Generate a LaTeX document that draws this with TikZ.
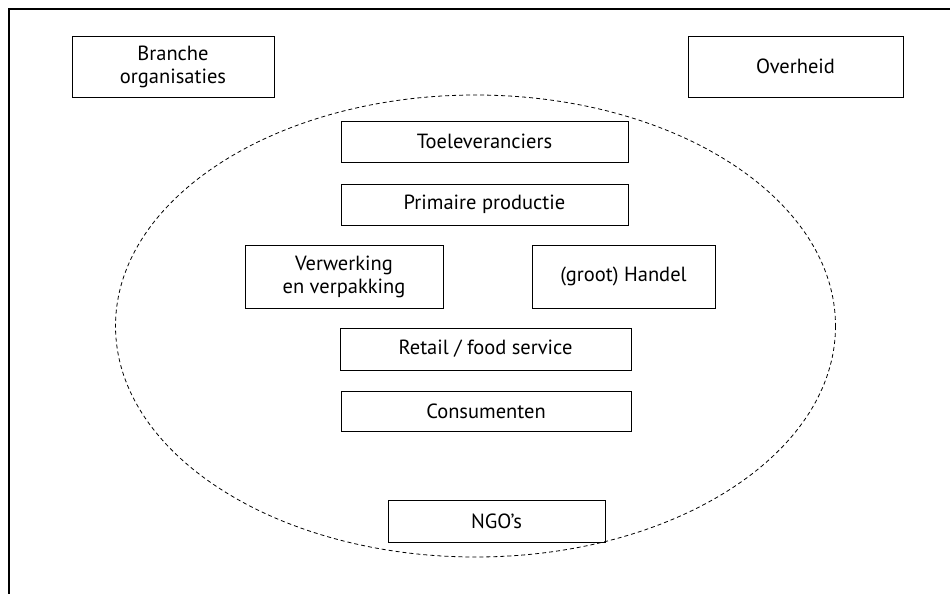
\documentclass[tikz,border=0pt]{standalone}
\usepackage{fontspec}
\setmainfont{PT Sans}
\begin{document}
\begin{tikzpicture}[x=1pt,y=-1pt,
  box/.style={draw, line width=0.9pt, inner sep=0pt, align=center,
    font=\fontsize{20.5}{23}\selectfont},
  frame/.style={line width=1.3pt},
  zone/.style={dashed, line width=0.8pt, dash pattern=on 4pt off 3pt}]
\useasboundingbox (0,0) rectangle (950,594);
\draw[frame] (9,594) -- (9,9) -- (950,9);
\draw[zone] (475.5,326) ellipse [x radius=360, y radius=231];
\node[box, minimum width=202, minimum height=61] (branche) at (173,66.5) {Branche\\organisaties};
\node[box, minimum width=215, minimum height=61] (overheid) at (795.5,66.5) {Overheid};
\node[box, minimum width=287, minimum height=41] (toel) at (484.5,141.5) {Toeleveranciers};
\node[box, minimum width=287, minimum height=41] (prim) at (484.5,204.5) {Primaire productie};
\node[box, minimum width=198, minimum height=63] (verw) at (344,276.5) {Verwerking\\en verpakking};
\node[box, minimum width=183, minimum height=63] (handel) at (623.5,276.5) {(groot) Handel};
\node[box, minimum width=291, minimum height=42] (retail) at (485.5,349) {Retail / food service};
\node[box, minimum width=290, minimum height=40] (cons) at (486,411) {Consumenten};
\node[box, minimum width=217, minimum height=42] (ngo) at (496.5,521) {NGO’s};
\end{tikzpicture}
\end{document}
